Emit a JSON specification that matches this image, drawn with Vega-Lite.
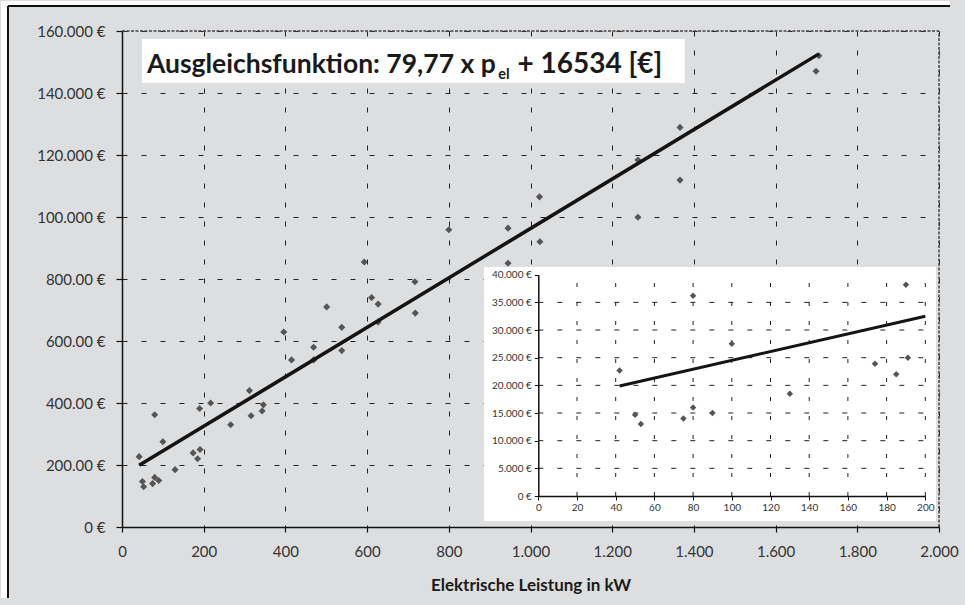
{
  "$schema": "https://vega.github.io/schema/vega-lite/v6.json",
  "width": 817,
  "height": 496,
  "autosize": {"type": "none"},
  "padding": {"left": 122, "top": 31, "right": 26, "bottom": 78},
  "background": "#dddee0",
  "config": {"view": {"stroke": null}, "font": "Lato"},
  "datasets": {
    "one": [{}],
    "pts": [
      {"kw": 42, "eur": 22700}, {"kw": 50, "eur": 14700}, {"kw": 53, "eur": 13000},
      {"kw": 75, "eur": 14000}, {"kw": 80, "eur": 16000}, {"kw": 80, "eur": 36200},
      {"kw": 90, "eur": 15000}, {"kw": 100, "eur": 27500}, {"kw": 130, "eur": 18500},
      {"kw": 174, "eur": 23900}, {"kw": 185, "eur": 22000}, {"kw": 190, "eur": 38200},
      {"kw": 191, "eur": 25000}, {"kw": 217, "eur": 40000}, {"kw": 266, "eur": 33000},
      {"kw": 312, "eur": 44000}, {"kw": 316, "eur": 35900}, {"kw": 343, "eur": 37400},
      {"kw": 346, "eur": 39400}, {"kw": 396, "eur": 62900}, {"kw": 415, "eur": 53900},
      {"kw": 469, "eur": 58000}, {"kw": 469, "eur": 53900}, {"kw": 501, "eur": 71000},
      {"kw": 538, "eur": 64400}, {"kw": 538, "eur": 56900}, {"kw": 593, "eur": 85500},
      {"kw": 611, "eur": 74000}, {"kw": 627, "eur": 71900}, {"kw": 627, "eur": 66100},
      {"kw": 718, "eur": 69000}, {"kw": 717, "eur": 79100}, {"kw": 800, "eur": 95900},
      {"kw": 945, "eur": 96400}, {"kw": 945, "eur": 85100}, {"kw": 1022, "eur": 106500},
      {"kw": 1023, "eur": 92000}, {"kw": 1263, "eur": 118400}, {"kw": 1263, "eur": 99900},
      {"kw": 1366, "eur": 128900}, {"kw": 1366, "eur": 111900}, {"kw": 1706, "eur": 152000},
      {"kw": 1699, "eur": 147000}
    ],
    "fitMain": [{"kw": 42, "eur": 19884}, {"kw": 1706, "eur": 152621}],
    "fitInset": [{"kw": 42, "eur": 19884}, {"kw": 200, "eur": 32488}],
    "igx": [{"g": 20}, {"g": 40}, {"g": 60}, {"g": 80}, {"g": 100}, {"g": 120}, {"g": 140}, {"g": 160}, {"g": 180}, {"g": 200}],
    "igy": [{"g": 5000}, {"g": 10000}, {"g": 15000}, {"g": 20000}, {"g": 25000}, {"g": 30000}, {"g": 35000}]
  },
  "layer": [
    {
      "data": {"name": "pts"},
      "mark": {"type": "point", "shape": "diamond", "filled": true, "size": 50, "color": "#555555", "opacity": 1},
      "encoding": {
        "x": {
          "field": "kw", "type": "quantitative",
          "scale": {"domain": [0, 2000], "nice": false, "zero": false},
          "axis": {
            "title": "Elektrische Leistung in kW",
            "values": [0, 200, 400, 600, 800, 1000, 1200, 1400, 1600, 1800, 2000],
            "labelExpr": "replace(format(datum.value, ','), ',', '.')",
            "labelFlush": false, "labelOverlap": false,
            "labelFont": "Lato", "labelFontSize": 15, "labelColor": "#333333", "labelPadding": 12,
            "tickSize": 5, "tickColor": "#111111", "tickWidth": 1.2,
            "domainColor": "#111111", "domainWidth": 1.5,
            "grid": true, "gridDash": [5, 14], "gridColor": "#222222", "gridWidth": 1,
            "titleFont": "Lato", "titleFontSize": 17, "titleFontWeight": "bold", "titleColor": "#1a1a1a", "titlePadding": 18
          }
        },
        "y": {
          "field": "eur", "type": "quantitative",
          "scale": {"domain": [0, 160000], "nice": false, "zero": false},
          "axis": {
            "title": null,
            "values": [0, 20000, 40000, 60000, 80000, 100000, 120000, 140000, 160000],
            "labelExpr": "datum.value === 0 ? '0 €' : datum.value < 100000 ? format(datum.value / 100, '.2f') + ' €' : replace(format(datum.value, ','), ',', '.') + ' €'",
            "labelFlush": false, "labelOverlap": false,
            "labelFont": "Lato", "labelFontSize": 15, "labelColor": "#333333", "labelPadding": 11,
            "tickSize": 6, "tickColor": "#111111", "tickWidth": 1.2,
            "domainColor": "#111111", "domainWidth": 1.5,
            "grid": true, "gridDash": [5, 14], "gridColor": "#222222", "gridWidth": 1
          }
        }
      }
    },
    {
      "data": {"name": "fitMain"},
      "mark": {"type": "line", "color": "#141414", "strokeWidth": 3.5},
      "encoding": {
        "x": {"field": "kw", "type": "quantitative", "scale": {"domain": [0, 2000], "nice": false, "zero": false}, "axis": null},
        "y": {"field": "eur", "type": "quantitative", "scale": {"domain": [0, 160000], "nice": false, "zero": false}, "axis": null}
      }
    },
    {
      "data": {"name": "one"},
      "mark": {"type": "rule", "color": "#444444", "strokeWidth": 1.5, "strokeDash": [3, 1.5]},
      "encoding": {
        "x": {"datum": 0, "scale": {"domain": [0, 2000], "nice": false, "zero": false}, "axis": null},
        "x2": {"datum": 2000},
        "y": {"datum": 160000, "scale": {"domain": [0, 160000], "nice": false, "zero": false}, "axis": null}
      }
    },
    {
      "data": {"name": "one"},
      "mark": {"type": "rule", "color": "#444444", "strokeWidth": 1.5, "strokeDash": [3, 1.5]},
      "encoding": {
        "x": {"datum": 2000, "scale": {"domain": [0, 2000], "nice": false, "zero": false}, "axis": null},
        "y": {"datum": 0, "scale": {"domain": [0, 160000], "nice": false, "zero": false}, "axis": null},
        "y2": {"datum": 160000}
      }
    },
    {
      "data": {"name": "one"},
      "mark": {"type": "rect", "color": "#ffffff"},
      "encoding": {
        "x": {"datum": -296.2, "scale": {"domain": [0, 2000], "nice": false, "zero": false}, "axis": null},
        "x2": {"datum": -279.1},
        "y": {"datum": -22903, "scale": {"domain": [0, 160000], "nice": false, "zero": false}, "axis": null},
        "y2": {"datum": 169677}
      }
    },
    {
      "data": {"name": "one"},
      "mark": {"type": "rect", "color": "#ffffff"},
      "encoding": {
        "x": {"datum": -296.2, "scale": {"domain": [0, 2000], "nice": false, "zero": false}, "axis": null},
        "x2": {"datum": 2027},
        "y": {"datum": 168064, "scale": {"domain": [0, 160000], "nice": false, "zero": false}, "axis": null},
        "y2": {"datum": 169677}
      }
    },
    {
      "data": {"name": "one"},
      "mark": {"type": "rule", "color": "#111111", "strokeWidth": 2},
      "encoding": {
        "x": {"datum": -279.1, "scale": {"domain": [0, 2000], "nice": false, "zero": false}, "axis": null},
        "y": {"datum": -22903, "scale": {"domain": [0, 160000], "nice": false, "zero": false}, "axis": null},
        "y2": {"datum": 168064}
      }
    },
    {
      "data": {"name": "one"},
      "mark": {"type": "rule", "color": "#111111", "strokeWidth": 2},
      "encoding": {
        "x": {"datum": -279.1, "scale": {"domain": [0, 2000], "nice": false, "zero": false}, "axis": null},
        "x2": {"datum": 2027},
        "y": {"datum": 168064, "scale": {"domain": [0, 160000], "nice": false, "zero": false}, "axis": null}
      }
    },
    {
      "data": {"name": "one"},
      "mark": {"type": "rect", "color": "#ffffff"},
      "encoding": {
        "x": {"datum": 49, "scale": {"domain": [0, 2000], "nice": false, "zero": false}, "axis": null},
        "x2": {"datum": 1378},
        "y": {"datum": 143226, "scale": {"domain": [0, 160000], "nice": false, "zero": false}, "axis": null},
        "y2": {"datum": 157419}
      }
    },
    {
      "data": {"name": "one"},
      "mark": {"type": "text", "text": "Ausgleichsfunktion: 79,77 x p", "align": "left", "baseline": "alphabetic", "font": "Lato", "fontWeight": "bold", "fontSize": 26.5, "color": "#1a1a1a"},
      "encoding": {
        "x": {"datum": 61, "scale": {"domain": [0, 2000], "nice": false, "zero": false}, "axis": null},
        "y": {"datum": 146450, "scale": {"domain": [0, 160000], "nice": false, "zero": false}, "axis": null}
      }
    },
    {
      "data": {"name": "one"},
      "mark": {"type": "text", "text": "el", "align": "left", "baseline": "alphabetic", "font": "Lato", "fontWeight": "bold", "fontSize": 14.5, "color": "#1a1a1a"},
      "encoding": {
        "x": {"datum": 921, "scale": {"domain": [0, 2000], "nice": false, "zero": false}, "axis": null},
        "y": {"datum": 144516, "scale": {"domain": [0, 160000], "nice": false, "zero": false}, "axis": null}
      }
    },
    {
      "data": {"name": "one"},
      "mark": {"type": "text", "text": "+ 16534 [€]", "align": "left", "baseline": "alphabetic", "font": "Lato", "fontWeight": "bold", "fontSize": 28, "color": "#1a1a1a"},
      "encoding": {
        "x": {"datum": 968, "scale": {"domain": [0, 2000], "nice": false, "zero": false}, "axis": null},
        "y": {"datum": 146450, "scale": {"domain": [0, 160000], "nice": false, "zero": false}, "axis": null}
      }
    },
    {
      "data": {"name": "one"},
      "mark": {"type": "rect", "color": "#ffffff"},
      "encoding": {
        "x": {"datum": -28.1, "scale": {"domain": [0, 200], "range": [416.3, 803.3], "nice": false, "zero": false}, "axis": null},
        "x2": {"datum": 205.5},
        "y": {"datum": -4518, "scale": {"domain": [0, 40000], "range": [465, 243.7], "nice": false, "zero": false}, "axis": null},
        "y2": {"datum": 41390}
      }
    },
    {
      "data": {"name": "igx"},
      "mark": {"type": "rule", "color": "#222222", "strokeWidth": 1, "strokeDash": [4, 15]},
      "encoding": {
        "x": {"field": "g", "type": "quantitative", "scale": {"domain": [0, 200], "range": [416.3, 803.3], "nice": false, "zero": false}, "axis": null},
        "y": {"datum": 0, "scale": {"domain": [0, 40000], "range": [465, 243.7], "nice": false, "zero": false}, "axis": null},
        "y2": {"datum": 40000}
      }
    },
    {
      "data": {"name": "igy"},
      "mark": {"type": "rule", "color": "#222222", "strokeWidth": 1, "strokeDash": [5, 14]},
      "encoding": {
        "x": {"datum": 0, "scale": {"domain": [0, 200], "range": [416.3, 803.3], "nice": false, "zero": false}, "axis": null},
        "x2": {"datum": 200},
        "y": {"field": "g", "type": "quantitative", "scale": {"domain": [0, 40000], "range": [465, 243.7], "nice": false, "zero": false}, "axis": null}
      }
    },
    {
      "data": {"name": "pts"},
      "transform": [{"filter": "datum.kw <= 200"}],
      "mark": {"type": "point", "shape": "diamond", "filled": true, "size": 42, "color": "#555555", "opacity": 1},
      "encoding": {
        "x": {
          "field": "kw", "type": "quantitative",
          "scale": {"domain": [0, 200], "range": [416.3, 803.3], "nice": false, "zero": false},
          "axis": {
            "orient": "bottom", "offset": -31, "zindex": 1, "title": null,
            "values": [0, 20, 40, 60, 80, 100, 120, 140, 160, 180, 200],
            "labelFlush": false, "labelOverlap": false,
            "labelFont": "Lato", "labelFontSize": 10, "labelColor": "#333333", "labelPadding": 2,
            "tickSize": 4, "tickColor": "#111111", "tickWidth": 1,
            "domainColor": "#111111", "domainWidth": 1.5, "grid": false
          }
        },
        "y": {
          "field": "eur", "type": "quantitative",
          "scale": {"domain": [0, 40000], "range": [465, 243.7], "nice": false, "zero": false},
          "axis": {
            "orient": "left", "offset": -416.3, "zindex": 1, "title": null,
            "values": [0, 5000, 10000, 15000, 20000, 25000, 30000, 35000, 40000],
            "labelExpr": "datum.value === 0 ? '0 €' : replace(format(datum.value, ','), ',', '.') + ' €'",
            "labelFlush": false, "labelOverlap": false,
            "labelFont": "Lato", "labelFontSize": 10, "labelColor": "#333333", "labelPadding": 3,
            "tickSize": 4, "tickColor": "#111111", "tickWidth": 1,
            "domainColor": "#111111", "domainWidth": 1.5, "grid": false
          }
        }
      }
    },
    {
      "data": {"name": "fitInset"},
      "mark": {"type": "line", "color": "#141414", "strokeWidth": 3},
      "encoding": {
        "x": {"field": "kw", "type": "quantitative", "scale": {"domain": [0, 200], "range": [416.3, 803.3], "nice": false, "zero": false}, "axis": null},
        "y": {"field": "eur", "type": "quantitative", "scale": {"domain": [0, 40000], "range": [465, 243.7], "nice": false, "zero": false}, "axis": null}
      }
    }
  ],
  "resolve": {"scale": {"x": "independent", "y": "independent"}, "axis": {"x": "independent", "y": "independent"}}
}
